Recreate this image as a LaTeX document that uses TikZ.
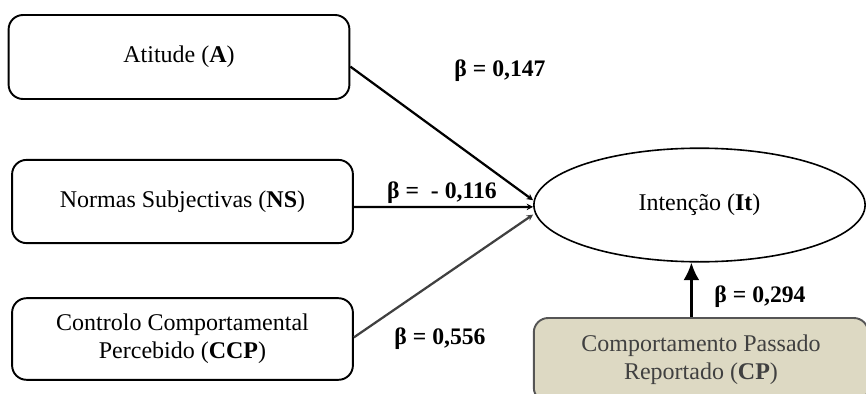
\documentclass[tikz,border=0pt]{standalone}
\usepackage{fontspec}
\setmainfont{Liberation Serif}
\usetikzlibrary{shapes.geometric,arrows.meta}
\definecolor{cpfill}{HTML}{DDD9C3}
\definecolor{cpdraw}{HTML}{555555}
\definecolor{cptext}{HTML}{404040}
\tikzset{
  construct/.style={draw=black, line width=1.2pt, rounded corners=9pt, align=center,
    font=\fontsize{15}{17.5}\selectfont, inner sep=0pt},
  latent/.style={draw=black, line width=1pt, ellipse, inner sep=0pt,
    font=\fontsize{15}{17.5}\selectfont},
  pastbox/.style={construct, fill=cpfill, draw=cpdraw, text=cptext},
  path/.style={line width=1.4pt, -{Stealth[length=4pt,width=4pt]}},
  coef/.style={font=\bfseries\fontsize{14.8}{17}\selectfont, inner sep=0pt}
}
\begin{document}
\begin{tikzpicture}[x=0.625pt, y=-0.625pt]
  \clip (0,0) rectangle (866,394);
  \useasboundingbox (0,0) rectangle (866,394);

  % predictors
  \node[construct, minimum width=213pt, minimum height=52.5pt] (A) at (179,57) {Atitude (\textbf{A})};
  \node[construct, minimum width=213pt, minimum height=52pt] (NS) at (182.5,201.5) {Normas Subjectivas (\textbf{NS})};
  \node[construct, minimum width=213pt, minimum height=51pt] (CCP) at (182.5,339) {Controlo Comportamental\\Percebido (\textbf{CCP})};

  % outcome
  \node[latent, minimum width=207pt, minimum height=71pt] (It) at (699.5,205) {Intenção (\textbf{It})};

  % past behaviour
  \node[pastbox, minimum width=209pt, minimum height=52.5pt] (CP) at (701,360) {Comportamento Passado\\Reportado (\textbf{CP})};

  % structural paths
  \draw[path] ([yshift=-6pt]A.east) -- ([yshift=3pt]It.west);
  \draw[path] ([yshift=-3.4pt]NS.east) -- ([yshift=-1.2pt]It.west);
  \draw[path, draw=cptext, fill=cptext] ([yshift=1pt]CCP.east) -- ([yshift=-6pt]It.west);
  \draw[line width=1.4pt, -{Latex[length=11pt,width=10pt]}] ([xshift=-6pt]CP.north) -- ([xshift=-6pt]CP.north |- It.south);

  % coefficients
  \node[coef] (bA) at (500,71) {β = 0,147};
  \node[coef] (bNS) at (442,193) {β =\ \ - 0,116};
  \node[coef] (bCCP) at (440,339) {β = 0,556};
  \node[coef] (bCP) at (760,297) {β = 0,294};
\end{tikzpicture}
\end{document}
